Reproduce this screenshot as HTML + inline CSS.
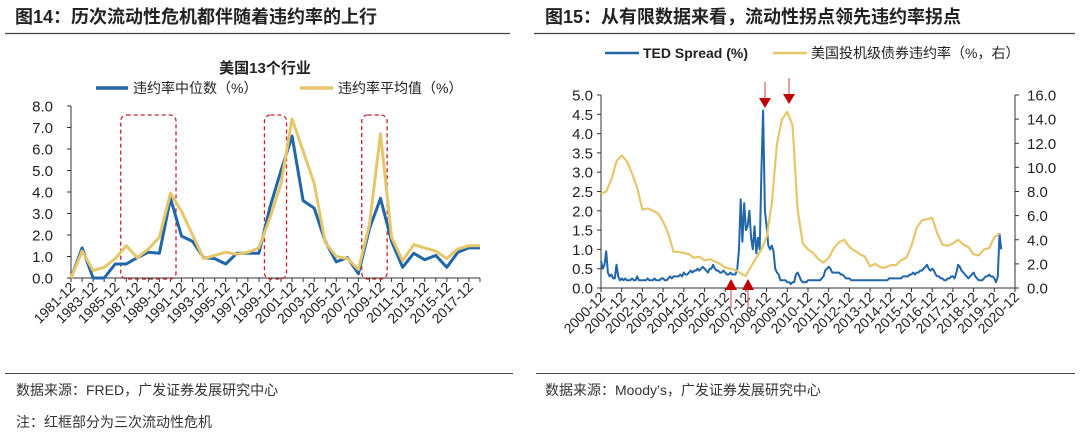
<!DOCTYPE html>
<html><head><meta charset="utf-8"><style>
html,body{margin:0;padding:0;background:#fff;}
svg{display:block;font-family:"Liberation Sans","Noto Sans CJK SC",sans-serif;}
</style></head><body>
<svg id="s" width="1080" height="438" viewBox="0 0 1080 438" xmlns="http://www.w3.org/2000/svg">
<g>
<text x="15" y="23" font-size="18" font-weight="bold" fill="#222">图14：历次流动性危机都伴随着违约率的上行</text>
<line x1="5" y1="33.5" x2="510" y2="33.5" stroke="#444" stroke-width="1.2"/>
</g>
<g>
<text x="545" y="23" font-size="18" font-weight="bold" fill="#222">图15：从有限数据来看，流动性拐点领先违约率拐点</text>
<line x1="534" y1="33.5" x2="1075" y2="33.5" stroke="#444" stroke-width="1.2"/>
</g>
<line x1="5" y1="373.5" x2="513" y2="373.5" stroke="#444" stroke-width="1"/>
<line x1="536" y1="373.5" x2="1075" y2="373.5" stroke="#444" stroke-width="1"/>
<text x="16" y="395" font-size="14" fill="#333">数据来源：FRED，广发证券发展研究中心</text>
<text x="16" y="427" font-size="14" fill="#333">注：红框部分为三次流动性危机</text>
<text x="545" y="395" font-size="14" fill="#333">数据来源：Moody’s，广发证券发展研究中心</text>

<text x="265" y="73" font-size="15" font-weight="bold" text-anchor="middle" fill="#222">美国13个行业</text>
<g>
<line x1="96" y1="88" x2="128" y2="88" stroke="#2066a8" stroke-width="3.5"/>
<text x="133" y="93" font-size="14" fill="#222">违约率中位数（%）</text>
<line x1="300" y1="88" x2="333" y2="88" stroke="#e6c66a" stroke-width="3.5"/>
<text x="338" y="93" font-size="14" fill="#222">违约率平均值（%）</text>
</g>
<g>
<line x1="605" y1="53" x2="639" y2="53" stroke="#2066a8" stroke-width="2.5"/>
<text x="643" y="58" font-size="14" font-weight="bold" fill="#222">TED Spread (%)</text>
<line x1="773" y1="53" x2="807" y2="53" stroke="#e6c66a" stroke-width="2.5"/>
<text x="811" y="58" font-size="14" fill="#222">美国投机级债券违约率（%，右）</text>
</g>
<g id="L"></g><g id="R"></g>
</svg>
<script>
// ---- Left chart data ----
const leftYears = [1981,1982,1983,1984,1985,1986,1987,1988,1989,1990,1991,1992,1993,1994,1995,1996,1997,1998,1999,2000,2001,2002,2003,2004,2005,2006,2007,2008,2009,2010,2011,2012,2013,2014,2015,2016,2017,2018];
const medianRate = [0.0,1.4,0.0,0.0,0.65,0.65,0.95,1.2,1.15,3.7,1.95,1.7,0.95,0.9,0.65,1.15,1.15,1.15,3.3,5.0,6.6,3.6,3.25,1.7,0.75,0.95,0.2,2.3,3.7,1.7,0.5,1.15,0.85,1.05,0.5,1.2,1.4,1.4];
const meanRate = [0.0,1.25,0.35,0.5,0.9,1.5,0.95,1.35,1.9,3.95,3.1,2.0,0.9,1.05,1.2,1.1,1.2,1.4,2.8,4.4,7.4,5.9,4.4,1.65,1.0,0.9,0.4,2.5,6.7,1.9,0.8,1.55,1.4,1.25,0.9,1.35,1.5,1.5];
const leftYTicks = [0,1,2,3,4,5,6,7,8];
const crisisBoxes = [[1985.5,1990.5],[1998.5,2000.5],[2007.3,2009.6]];

// ---- Right chart data ----
const tedStart = 2000.917; // Dec 2000, monthly
const tedSpread = [0.7,
0.5,0.6,0.95,0.4,0.3,0.35,0.25,0.25,0.6,0.3,0.2,0.25,
0.2,0.25,0.2,0.2,0.2,0.25,0.2,0.2,0.3,0.2,0.2,0.2,
0.2,0.2,0.25,0.2,0.2,0.2,0.25,0.2,0.2,0.2,0.25,0.25,
0.2,0.2,0.25,0.3,0.25,0.3,0.3,0.3,0.3,0.35,0.3,0.4,
0.35,0.35,0.4,0.45,0.4,0.45,0.45,0.5,0.45,0.5,0.55,0.5,
0.45,0.4,0.5,0.5,0.6,0.5,0.45,0.45,0.4,0.4,0.45,0.4,
0.35,0.35,0.4,0.35,0.35,0.35,0.5,1.0,2.3,1.2,2.2,1.5,
1.6,2.0,1.3,1.0,1.6,0.9,1.3,1.0,3.0,4.6,2.0,1.6,
1.1,1.0,1.1,0.95,0.5,0.4,0.35,0.2,0.2,0.2,0.2,0.15,
0.15,0.1,0.15,0.15,0.35,0.4,0.3,0.2,0.15,0.15,0.15,0.2,
0.2,0.2,0.2,0.2,0.2,0.2,0.2,0.25,0.3,0.45,0.5,0.55,
0.5,0.4,0.4,0.4,0.4,0.4,0.35,0.35,0.3,0.25,0.25,0.25,
0.2,0.2,0.2,0.2,0.2,0.2,0.2,0.2,0.2,0.2,0.2,0.2,
0.2,0.2,0.2,0.2,0.2,0.2,0.2,0.2,0.2,0.2,0.25,0.25,
0.25,0.25,0.25,0.25,0.25,0.25,0.3,0.3,0.3,0.3,0.35,0.35,
0.4,0.35,0.4,0.4,0.45,0.45,0.5,0.55,0.6,0.5,0.45,0.5,
0.45,0.35,0.3,0.3,0.25,0.25,0.2,0.2,0.25,0.25,0.3,0.3,
0.25,0.4,0.6,0.55,0.45,0.4,0.35,0.3,0.25,0.3,0.35,0.4,
0.3,0.25,0.2,0.2,0.2,0.25,0.3,0.3,0.35,0.3,0.3,0.25,
0.15,0.3,1.4,1.0];
const hyStart = 2000.917; // Dec 2000, quarterly
const hyDefault = [7.8,8.0,9.0,10.5,11.0,10.5,9.5,8.3,6.5,6.6,6.4,6.2,5.5,4.5,3.0,3.0,2.9,2.8,2.5,2.6,2.3,2.4,2.2,2.0,1.7,1.6,1.5,1.2,1.0,1.8,2.5,3.2,4.2,7.0,12.0,14.0,14.6,13.5,6.5,3.7,3.2,2.9,2.4,2.1,2.5,3.3,3.8,4.0,3.4,3.1,2.8,2.6,1.8,2.0,1.7,1.7,1.9,1.9,2.3,2.5,3.5,5.0,5.6,5.7,5.8,4.5,3.6,3.5,3.7,4.0,3.6,3.4,2.8,2.7,3.2,3.3,4.2,4.5];
const rightLeftTicks = [0,0.5,1,1.5,2,2.5,3,3.5,4,4.5,5];
const rightRightTicks = [0,2,4,6,8,10,12,14,16];
const rightYears = [2000,2001,2002,2003,2004,2005,2006,2007,2008,2009,2010,2011,2012,2013,2014,2015,2016,2017,2018,2019,2020];

const NS='http://www.w3.org/2000/svg';
function mk(p,tag,a){const e=document.createElementNS(NS,tag);for(const k in a)e.setAttribute(k,a[k]);p.appendChild(e);return e;}

// ---- Left chart ----
const L=document.getElementById('L');


const lx0=71,lx1=480,ly0=278,ly1=106;
const lX=v=>lx0+(v-leftYears[0])/(leftYears[leftYears.length-1]-leftYears[0])*(lx1-lx0);
const lY=v=>ly0-v/8*(ly0-ly1);
mk(L,'line',{x1:lx0,y1:ly1,x2:lx0,y2:ly0,stroke:'#333','stroke-width':1});
mk(L,'line',{x1:lx0,y1:ly0,x2:lx1,y2:ly0,stroke:'#333','stroke-width':1});
leftYTicks.forEach(t=>{
  mk(L,'line',{x1:lx0-4,y1:lY(t),x2:lx0,y2:lY(t),stroke:'#333'});
  const tx=mk(L,'text',{x:53,y:lY(t)+5.5,'font-size':15,'text-anchor':'end',fill:'#222'});
  tx.textContent=t.toFixed(1);
  
  
});
leftYears.forEach((y,i)=>{
  const x=lX(y);
  mk(L,'line',{x1:x,y1:ly0,x2:x,y2:ly0+4,stroke:'#333'});
  if(i%2===0){
    const tx=mk(L,'text',{x:x+5,y:ly0+10,'font-size':14,'text-anchor':'end',fill:'#222',transform:`rotate(-45 ${x+5} ${ly0+10})`});
    tx.textContent=y+'-12';
    
    
  }
});
crisisBoxes.forEach(b=>{
  const r=mk(L,'rect',{x:lX(b[0]),y:ly1+9,width:lX(b[1])-lX(b[0]),height:ly0-ly1-8,rx:6,fill:'none',stroke:'#c8202a','stroke-width':1.3,'stroke-dasharray':'4,3'});
  
  
});
function poly(p,xs,ys,X,Y,col,w,name){
  const pts=xs.map((x,i)=>X(x).toFixed(1)+','+Y(ys[i]).toFixed(1)).join(' ');
  const e=mk(p,'polyline',{points:pts,fill:'none',stroke:col,'stroke-width':w,'stroke-linejoin':'round'});
  
  
}
poly(L,leftYears,medianRate,lX,lY,'#2066a8',3,'median-line');
poly(L,leftYears,meanRate,lX,lY,'#e6c66a',3,'mean-line');

// ---- Right chart ----
const R=document.getElementById('R');


const rx0=601,rx1=1015,ry0=288,ry1=95;
const rX=v=>rx0+(v-2000.917)/20*(rx1-rx0);
const rYL=v=>ry0-v/5*(ry0-ry1);
const rYR=v=>ry0-v/16*(ry0-ry1);
mk(R,'line',{x1:rx0,y1:ry1,x2:rx0,y2:ry0,stroke:'#333'});
mk(R,'line',{x1:rx1,y1:ry1,x2:rx1,y2:ry0,stroke:'#333'});
mk(R,'line',{x1:rx0,y1:ry0,x2:rx1,y2:ry0,stroke:'#333'});
rightLeftTicks.forEach(t=>{
  mk(R,'line',{x1:rx0-4,y1:rYL(t),x2:rx0,y2:rYL(t),stroke:'#333'});
  const tx=mk(R,'text',{x:593,y:rYL(t)+5.5,'font-size':15,'text-anchor':'end',fill:'#222'});
  tx.textContent=t.toFixed(1);
  
  
});
rightRightTicks.forEach(t=>{
  mk(R,'line',{x1:rx1,y1:rYR(t),x2:rx1+4,y2:rYR(t),stroke:'#333'});
  const tx=mk(R,'text',{x:1027,y:rYR(t)+5.5,'font-size':15,fill:'#222'});
  tx.textContent=t.toFixed(1);
  
  
});
rightYears.forEach(y=>{
  const x=rX(y+0.917);
  mk(R,'line',{x1:x,y1:ry0,x2:x,y2:ry0+4,stroke:'#333'});
  const tx=mk(R,'text',{x:x+5,y:ry0+10,'font-size':14,'text-anchor':'end',fill:'#222',transform:`rotate(-45 ${x+5} ${ry0+10})`});
  tx.textContent=y+'-12';
  
  
});
poly(R,tedSpread.map((v,i)=>tedStart+i/12),tedSpread,rX,rYL,'#2066a8',2,'ted-spread-line');
poly(R,hyDefault.map((v,i)=>hyStart+i/4),hyDefault,rX,rYR,'#e6c66a',2.2,'hy-default-line');
// arrows
function arrow(x,tip,tail,down){
  const g=mk(R,'g',{});
  
  
  mk(g,'line',{x1:x,y1:tail,x2:x,y2:down?tip-8:tip+8,stroke:'#d46060','stroke-width':1.2});
  const h=down?`${x-6},${tip-10} ${x+6},${tip-10} ${x},${tip}`:`${x-6},${tip+11} ${x+6},${tip+11} ${x},${tip}`;
  mk(g,'polygon',{points:h,fill:'#c00000'});
}
arrow(765,108,82,true);
arrow(789,104,78,true);
arrow(731,279,308,false);
arrow(748,279,308,false);
</script>
</body></html>
